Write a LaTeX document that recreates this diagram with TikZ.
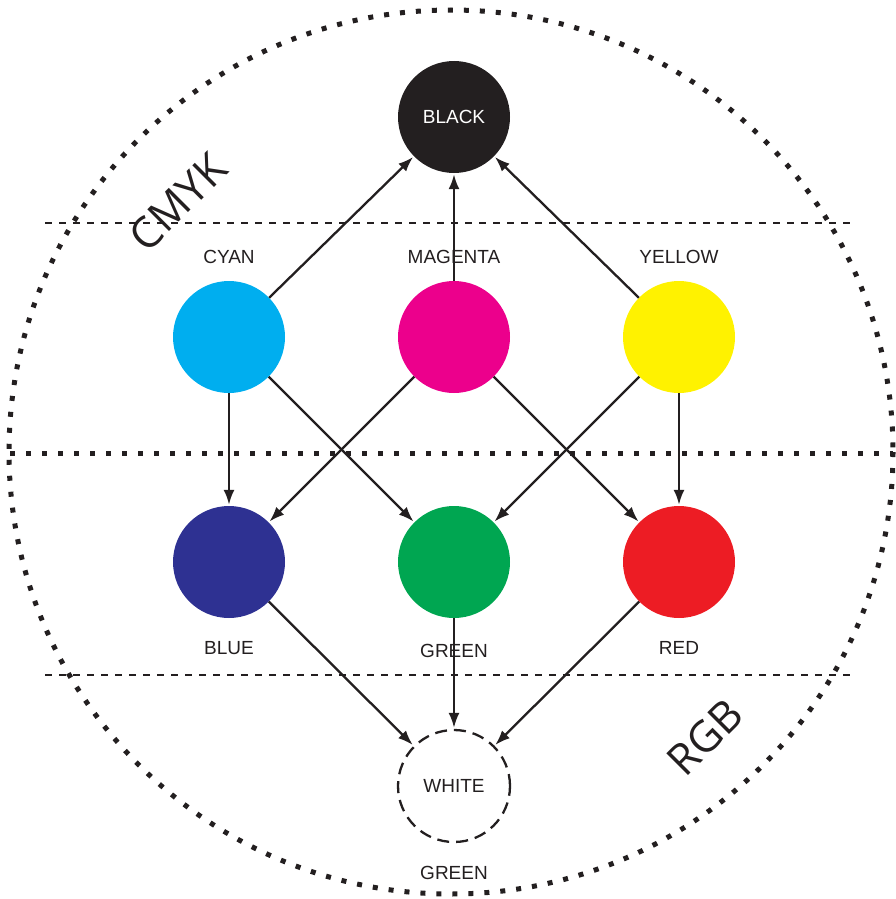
\documentclass[tikz,border=0pt]{standalone}
\usepackage{fontspec}
\setmainfont{Liberation Sans}
\newfontfamily\sidefont{Open Sans}
\usetikzlibrary{arrows.meta,positioning}
\definecolor{inkc}{HTML}{231F20}
\definecolor{cyanc}{HTML}{00AEEF}
\definecolor{magentac}{HTML}{EC008C}
\definecolor{yellowc}{HTML}{FFF200}
\definecolor{bluec}{HTML}{2E3192}
\definecolor{greenc}{HTML}{00A651}
\definecolor{redc}{HTML}{ED1C24}

\begin{document}
\begin{tikzpicture}[x=1pt, y=-1pt,
  font=\fontsize{19}{22}\selectfont,
  dot/.style={inkc, line width=5pt, dash pattern=on 5pt off 11pt},
  sep/.style={inkc, line width=2.2pt, dash pattern=on 7pt off 7pt},
  cnode/.style={circle, minimum size=112pt, inner sep=0pt},
  lbl/.style={inner sep=0pt, text=inkc},
  side/.style={font=\sidefont\fontsize{43}{45}\selectfont, text=inkc, rotate=45},
  arr/.style={-{Latex[length=15pt, width=11pt]}, line width=2.3pt, inkc, shorten >=1pt}
]
\useasboundingbox (0,0) rectangle (896,899);

% outer ring and dividers
\draw[dot] (451,452) circle[radius=442];
\draw[dot] (10,453) -- (893,453);
\draw[sep] (45,223) -- (852,223);
\draw[sep] (45,675) -- (852,675);

% colour nodes
\node[cnode, fill=inkc, text=white] (black) at (454,117) {BLACK};
\node[cnode, fill=magentac] (magenta) at (454,337) {};
\node[cnode, fill=cyanc, left=225pt of magenta.center, anchor=center] (cyan) {};
\node[cnode, fill=yellowc, right=225pt of magenta.center, anchor=center] (yellow) {};
\node[cnode, fill=greenc] (green) at (454,562) {};
\node[cnode, fill=bluec, left=225pt of green.center, anchor=center] (blue) {};
\node[cnode, fill=redc, right=225pt of green.center, anchor=center] (red) {};
\node[cnode, draw=inkc, line width=2.3pt, dash pattern=on 12pt off 7pt, text=inkc] (white) at (454,786) {WHITE};

% names
\node[lbl, above=17pt of cyan] (cyanlbl) {CYAN};
\node[lbl, above=17pt of magenta] (magentalbl) {MAGENTA};
\node[lbl, above=17pt of yellow] (yellowlbl) {YELLOW};
\node[lbl, below=23pt of blue] (bluelbl) {BLUE};
\node[lbl, below=26pt of green] (greenlbl) {GREEN};
\node[lbl, below=23pt of red] (redlbl) {RED};
\node[lbl, below=23pt of white] (whitelbl) {GREEN};

\node[side] (cmyk) at (178,202) {CMYK};
\node[side] (rgb) at (705,737) {RGB};

% mixing arrows
\draw[arr] (cyan) -- (black);
\draw[arr] (magenta) -- (black);
\draw[arr] (yellow) -- (black);
\draw[arr] (cyan) -- (blue);
\draw[arr] (cyan) -- (green);
\draw[arr] (magenta) -- (blue);
\draw[arr] (magenta) -- (red);
\draw[arr] (yellow) -- (green);
\draw[arr] (yellow) -- (red);
\draw[arr] (blue) -- (white);
\draw[arr] (green) -- (white);
\draw[arr] (red) -- (white);
\end{tikzpicture}
\end{document}
